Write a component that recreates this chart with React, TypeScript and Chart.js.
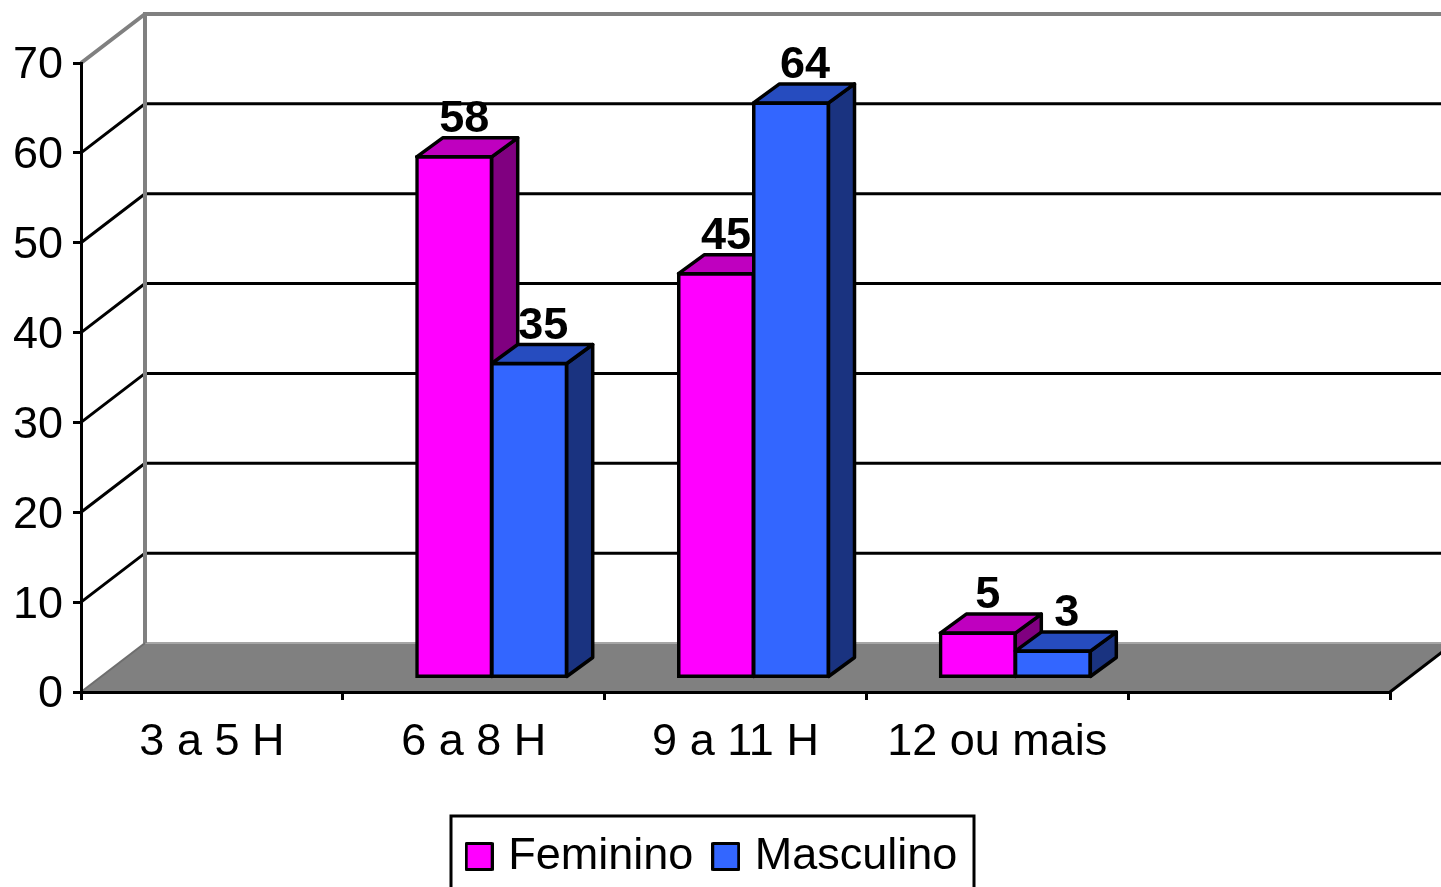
import React, { useEffect, useRef } from "react";
import { Chart, registerables } from "chart.js";

Chart.register(...registerables);

const categories = ["3 a 5 H", "6 a 8 H", "9 a 11 H", "12 ou mais", ""];
const feminino = [null, 58, 45, 5, null];
const masculino = [null, 35, 64, 3, null];
const yTicks = [0, 10, 20, 30, 40, 50, 60, 70];

const FONT = '"Liberation Sans", Arial, sans-serif';
const WALL = { dx: 64, dy: 49 };
const BAR_SHIFT = { dx: 18, dy: 14 };
const BAR_DEPTH = { dx: 26, dy: 19 };
const LEGEND_BOX = { left: 451, right: 974, top: 816 };
const GRAY = "#808080";
const STROKE = 3.5;

const faces: Record<string, { top: string; side: string; label: number }> = {
  Feminino: { top: "#BF00BF", side: "#800080", label: 10 },
  Masculino: { top: "#264CBF", side: "#1A3380", label: 14 },
};

function swatch(color: string) {
  const c = document.createElement("canvas");
  c.width = 29;
  c.height = 29;
  const x = c.getContext("2d")!;
  x.fillStyle = color;
  x.fillRect(2, 2, 25, 25);
  x.strokeStyle = "#000";
  x.lineWidth = 3;
  x.lineJoin = "round";
  x.strokeRect(1.5, 1.5, 26, 26);
  return c;
}

function drawFaces(ctx: any, ds: any, meta: any) {
  const face = faces[ds.label];
  meta.data.forEach((bar: any, i: number) => {
    if (ds.data[i] == null) return;
    const { x, y, base, width } = bar.getProps(["x", "y", "base", "width"]);
    const l = x - width / 2;
    const r = x + width / 2;
    ctx.lineWidth = STROKE;
    ctx.lineJoin = "round";
    ctx.strokeStyle = "#000";
    ctx.fillStyle = face.side;
    ctx.beginPath();
    ctx.moveTo(r, y);
    ctx.lineTo(r + BAR_DEPTH.dx, y - BAR_DEPTH.dy);
    ctx.lineTo(r + BAR_DEPTH.dx, base - BAR_DEPTH.dy);
    ctx.lineTo(r, base);
    ctx.closePath();
    ctx.fill();
    ctx.stroke();
    ctx.fillStyle = face.top;
    ctx.beginPath();
    ctx.moveTo(l, y);
    ctx.lineTo(l + BAR_DEPTH.dx, y - BAR_DEPTH.dy);
    ctx.lineTo(r + BAR_DEPTH.dx, y - BAR_DEPTH.dy);
    ctx.lineTo(r, y);
    ctx.closePath();
    ctx.fill();
    ctx.stroke();
  });
}

const scene3d = {
  id: "scene3d",
  afterLayout(chart: any) {
    const l = chart.legend;
    l.left = 446;
    l.right = 984;
    l.width = l.right - l.left;
    l.top = 808;
    l.bottom = l.top + l.height;
  },
  beforeDraw(chart: any) {
    const { ctx, scales, chartArea } = chart;
    const y = scales.y;
    const { left, right } = chartArea;
    const y0 = y.getPixelForValue(0);
    const yTop = y.getPixelForValue(70);
    ctx.save();
    ctx.fillStyle = "#fff";
    ctx.fillRect(0, 0, chart.width, chart.height);

    // floor
    ctx.beginPath();
    ctx.moveTo(left, y0);
    ctx.lineTo(left + WALL.dx, y0 - WALL.dy);
    ctx.lineTo(right + WALL.dx, y0 - WALL.dy);
    ctx.lineTo(right, y0);
    ctx.closePath();
    ctx.fillStyle = GRAY;
    ctx.fill();
    ctx.strokeStyle = "#a6a6a6";
    ctx.lineWidth = 2;
    ctx.beginPath();
    ctx.moveTo(left + WALL.dx, y0 - WALL.dy);
    ctx.lineTo(right + WALL.dx, y0 - WALL.dy);
    ctx.stroke();
    ctx.strokeStyle = "#000";
    ctx.lineWidth = 3;
    ctx.beginPath();
    ctx.moveTo(right, y0);
    ctx.lineTo(right + WALL.dx, y0 - WALL.dy);
    ctx.stroke();

    // gridlines on the side and back walls
    ctx.lineWidth = 3;
    for (const v of yTicks) {
      if (v === 0 || v === 70) continue;
      const p = y.getPixelForValue(v);
      ctx.strokeStyle = "#000";
      ctx.beginPath();
      ctx.moveTo(left, p);
      ctx.lineTo(left + WALL.dx, p - WALL.dy);
      ctx.lineTo(right + WALL.dx, p - WALL.dy);
      ctx.stroke();
    }

    // wall frame
    ctx.strokeStyle = GRAY;
    ctx.lineWidth = 4;
    ctx.lineJoin = "miter";
    ctx.beginPath();
    ctx.moveTo(left + WALL.dx, y0 - WALL.dy);
    ctx.lineTo(left + WALL.dx, yTop - WALL.dy);
    ctx.lineTo(right + WALL.dx, yTop - WALL.dy);
    ctx.moveTo(left, yTop);
    ctx.lineTo(left + WALL.dx, yTop - WALL.dy);
    ctx.stroke();
    ctx.lineWidth = 2;
    ctx.strokeStyle = "#6e6e6e";
    ctx.beginPath();
    ctx.moveTo(left, y0);
    ctx.lineTo(left + WALL.dx, y0 - WALL.dy);
    ctx.stroke();
    ctx.restore();
  },
  beforeDatasetsDraw(chart: any) {
    // Feminino first, so each Masculino bar sits in front of its neighbour's side face.
    const { ctx } = chart;
    chart.data.datasets.forEach((ds: any, di: number) => {
      const meta = chart.getDatasetMeta(di);
      ctx.save();
      ctx.translate(BAR_SHIFT.dx, -BAR_SHIFT.dy);
      drawFaces(ctx, ds, meta);
      meta.controller.draw();
      ctx.restore();
    });
    return false;
  },
  afterDraw(chart: any) {
    const { ctx } = chart;
    ctx.save();
    ctx.font = `bold 45px ${FONT}`;
    ctx.fillStyle = "#000";
    ctx.textAlign = "center";
    ctx.textBaseline = "alphabetic";
    chart.data.datasets.forEach((ds: any, di: number) => {
      const meta = chart.getDatasetMeta(di);
      meta.data.forEach((bar: any, i: number) => {
        const v = ds.data[i];
        if (v == null) return;
        const { x, y } = bar.getProps(["x", "y"]);
        ctx.fillText(
          String(v),
          x + BAR_SHIFT.dx + faces[ds.label].label,
          y - BAR_SHIFT.dy - BAR_DEPTH.dy - 6
        );
      });
    });
    ctx.strokeStyle = "#000";
    ctx.lineWidth = 3;
    ctx.strokeRect(LEGEND_BOX.left, LEGEND_BOX.top, LEGEND_BOX.right - LEGEND_BOX.left, 100);
    ctx.restore();
  },
};

export default function App() {
  const ref = useRef<HTMLCanvasElement>(null);
  useEffect(() => {
    (ref.current!.getContext("2d") as any).fontKerning = "none";
    const chart = new Chart(ref.current!, {
      type: "bar",
      data: {
        labels: categories,
        datasets: [
          { label: "Feminino", data: feminino, backgroundColor: "#FF00FF" },
          { label: "Masculino", data: masculino, backgroundColor: "#3366FF" },
        ],
      } as any,
      options: {
        responsive: false,
        animation: false,
        devicePixelRatio: 1,
        layout: { padding: { top: 63, right: 51, left: 0, bottom: 0 } },
        datasets: {
          bar: {
            borderColor: "#000",
            borderWidth: STROKE,
            borderSkipped: false,
            inflateAmount: 1.5,
            categoryPercentage: 0.573,
            barPercentage: 1,
            clip: false,
          },
        },
        scales: {
          x: {
            afterFit: (s: any) => {
              s.height = 114;
            },
            border: { color: "#000", width: 3 },
            grid: {
              drawOnChartArea: false,
              color: "#000",
              lineWidth: 3,
              tickLength: 8,
              tickWidth: 3,
              tickColor: "#000",
            },
            ticks: {
              autoSkip: false,
              maxRotation: 0,
              color: "#000",
              padding: 16,
              font: { family: FONT, size: 45 },
            },
          },
          y: {
            min: 0,
            max: 70,
            afterFit: (s: any) => {
              s.width = 81;
            },
            border: { color: "#000", width: 3 },
            grid: {
              drawOnChartArea: false,
              color: "#000",
              lineWidth: 3,
              tickLength: 8,
              tickWidth: 3,
              tickColor: "#000",
            },
            afterBuildTicks: (s: any) => {
              s.ticks = yTicks.map((value) => ({ value }));
            },
            ticks: {
              color: "#000",
              padding: 10,
              labelOffset: 3,
              font: { family: FONT, size: 45 },
            },
          },
        },
        plugins: {
          tooltip: { enabled: false },
          legend: {
            position: "bottom",
            labels: {
              color: "#000",
              usePointStyle: true,
              boxWidth: 13,
              padding: 26,
              font: { family: FONT, size: 45 },
              generateLabels: (c: any) =>
                Chart.defaults.plugins.legend.labels
                  .generateLabels(c)
                  .map((item: any, i: number) => ({
                    ...item,
                    pointStyle: swatch(c.data.datasets[i].backgroundColor),
                    lineWidth: 0,
                  })),
            },
          },
        },
      } as any,
      plugins: [scene3d],
    });
    return () => chart.destroy();
  }, []);
  return (
    <div style={{ position: "fixed", left: 0, top: 0, width: 1441, height: 887, overflow: "hidden", background: "#fff" }}>
      <canvas ref={ref} width={1441} height={887} style={{ display: "block" }} />
    </div>
  );
}
